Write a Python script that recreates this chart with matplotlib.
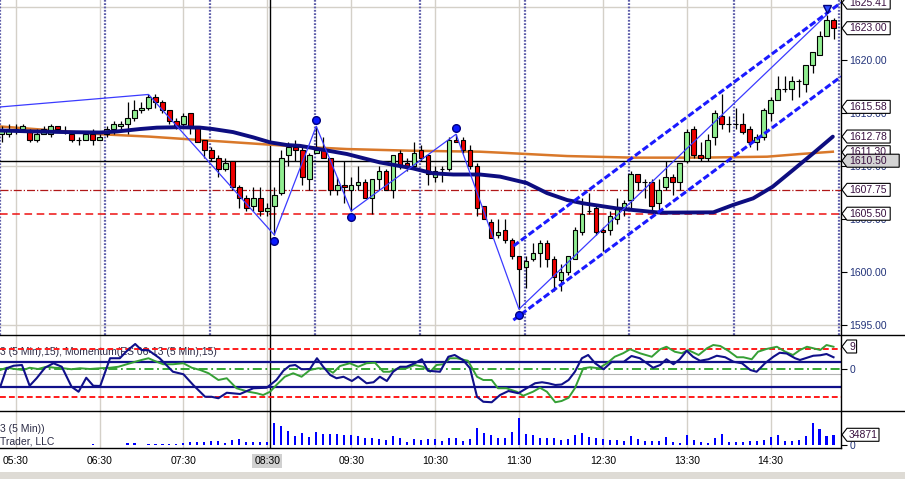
import numpy as np
import matplotlib
matplotlib.use('Agg')
import matplotlib.pyplot as plt
from matplotlib.patches import Polygon, Rectangle
from matplotlib.lines import Line2D
from matplotlib.transforms import IdentityTransform, offset_copy

plt.rcParams['font.family'] = ['Liberation Sans', 'DejaVu Sans']

# ---- 5 min bars (index 0 = 05:20) ----
opens = [1613.0, 1613.0, 1613.5, 1613.5, 1613.25, 1612.5, 1613.0, 1613.0, 1613.75, 1613.25,
         1613.0, 1612.5, 1612.5, 1613.0, 1612.5, 1613.0, 1613.5, 1613.75, 1614.0, 1614.5,
         1615.25, 1615.5, 1616.5, 1616.0, 1615.25, 1614.25, 1614.0, 1615.0, 1613.75, 1612.5,
         1611.5, 1610.75, 1609.75, 1610.5, 1608.0, 1607.0, 1606.25, 1607.0, 1605.75, 1606.25,
         1607.5, 1611.0, 1611.75, 1611.5, 1608.75, 1611.25, 1611.5, 1610.75, 1607.75, 1608.25,
         1607.75, 1608.25, 1608.5, 1607.0, 1608.75, 1609.5, 1607.75, 1611.25, 1610.25, 1610.0,
         1611.5, 1611.0, 1609.0, 1609.75, 1609.75, 1612.5, 1612.5, 1611.5, 1610.0, 1606.25,
         1604.75, 1603.5, 1604.0, 1603.0, 1601.5, 1600.5, 1601.25, 1601.75, 1602.75, 1601.25,
         1599.25, 1600.0, 1601.25, 1603.75, 1605.75, 1606.0, 1604.0, 1604.0, 1605.0, 1606.0,
         1606.75, 1609.25, 1608.5, 1608.5, 1606.5, 1608.0, 1609.0, 1608.5, 1610.5, 1613.5,
         1611.0, 1610.75, 1612.75, 1614.75, 1614.0, 1614.0, 1614.0, 1613.5, 1612.25, 1612.75,
         1615.0, 1616.25, 1617.25, 1617.25, 1618.0, 1617.75, 1619.5, 1620.5, 1622.25, 1623.75]
highs = [1613.75, 1614.0, 1614.0, 1614.0, 1613.5, 1613.5, 1613.75, 1614.0, 1613.75, 1613.75,
         1613.25, 1612.75, 1613.25, 1613.5, 1613.0, 1613.75, 1614.25, 1614.25, 1616.0, 1616.25,
         1616.0, 1616.75, 1616.75, 1616.25, 1615.25, 1614.5, 1615.0, 1615.0, 1613.75, 1612.5,
         1611.75, 1611.0, 1610.75, 1610.5, 1608.25, 1607.25, 1608.0, 1608.0, 1606.5, 1608.0,
         1611.5, 1612.25, 1612.5, 1611.75, 1611.25, 1613.75, 1612.75, 1610.75, 1609.0, 1610.5,
         1609.0, 1610.0, 1608.75, 1608.75, 1610.0, 1609.75, 1611.0, 1611.5, 1610.75, 1612.25,
         1612.0, 1611.0, 1610.0, 1610.0, 1612.75, 1613.0, 1612.75, 1612.0, 1610.25, 1606.25,
         1605.0, 1605.0, 1605.0, 1603.25, 1601.5, 1601.5, 1602.75, 1603.0, 1603.0, 1601.5,
         1600.75, 1601.5, 1604.25, 1607.0, 1607.5, 1606.25, 1604.25, 1605.75, 1607.0, 1606.75,
         1609.5, 1609.25, 1608.75, 1608.75, 1608.75, 1610.5, 1609.25, 1610.25, 1613.5, 1613.75,
         1612.25, 1613.0, 1615.25, 1616.75, 1614.75, 1615.5, 1615.0, 1613.75, 1613.0, 1615.5,
         1616.5, 1618.5, 1618.5, 1618.5, 1618.25, 1619.5, 1620.75, 1622.75, 1624.25, 1624.0]
lows = [1612.25, 1612.75, 1613.0, 1613.25, 1612.25, 1612.25, 1613.0, 1612.75, 1613.5, 1613.0,
        1612.25, 1612.0, 1612.5, 1612.0, 1612.5, 1612.75, 1613.0, 1613.5, 1613.0, 1614.25,
        1615.0, 1615.25, 1615.5, 1615.0, 1614.0, 1613.5, 1613.75, 1613.0, 1612.25, 1610.75,
        1610.5, 1609.0, 1609.5, 1607.75, 1606.0, 1605.75, 1605.75, 1605.25, 1605.25, 1603.5,
        1607.25, 1610.0, 1610.5, 1608.25, 1607.75, 1611.25, 1610.75, 1607.25, 1607.25, 1606.5,
        1605.75, 1607.75, 1607.0, 1605.5, 1607.75, 1607.75, 1607.0, 1609.75, 1609.5, 1609.75,
        1610.5, 1608.25, 1608.5, 1608.5, 1609.5, 1612.25, 1611.25, 1609.75, 1605.25, 1605.0,
        1603.25, 1603.25, 1602.75, 1601.25, 1596.5, 1598.5, 1601.0, 1600.5, 1600.5, 1598.25,
        1598.25, 1599.75, 1601.25, 1603.5, 1605.5, 1603.5, 1602.0, 1603.5, 1604.5, 1605.25,
        1606.0, 1607.75, 1607.0, 1605.75, 1605.75, 1607.75, 1607.25, 1607.75, 1610.25, 1610.75,
        1610.5, 1610.5, 1612.0, 1613.5, 1613.25, 1613.5, 1613.0, 1611.75, 1611.5, 1612.5,
        1614.25, 1616.25, 1617.0, 1616.25, 1616.5, 1617.0, 1618.75, 1620.5, 1622.25, 1622.0]
closes = [1613.5, 1613.5, 1613.5, 1613.75, 1612.5, 1613.0, 1613.5, 1613.75, 1613.5, 1613.25,
          1612.5, 1612.5, 1613.0, 1612.5, 1612.75, 1613.5, 1614.0, 1614.0, 1614.5, 1615.25,
          1615.5, 1616.5, 1616.0, 1615.25, 1614.25, 1613.75, 1614.75, 1613.75, 1612.25, 1611.5,
          1610.75, 1609.75, 1610.25, 1608.0, 1607.0, 1606.0, 1607.0, 1605.75, 1606.0, 1607.25,
          1610.75, 1611.75, 1611.5, 1609.0, 1611.0, 1611.5, 1610.75, 1607.75, 1608.25, 1608.0,
          1608.25, 1608.5, 1607.0, 1608.75, 1609.5, 1607.75, 1611.0, 1610.0, 1610.0, 1611.25,
          1610.75, 1609.25, 1609.5, 1609.75, 1612.5, 1612.25, 1611.5, 1610.0, 1606.0, 1605.0,
          1603.25, 1603.75, 1603.0, 1601.5, 1600.25, 1601.0, 1601.75, 1602.75, 1601.25, 1599.5,
          1600.0, 1601.5, 1604.0, 1605.5, 1605.75, 1603.75, 1603.75, 1605.25, 1606.0, 1606.5,
          1609.25, 1608.5, 1608.5, 1606.25, 1607.75, 1609.0, 1608.5, 1610.25, 1613.25, 1611.0,
          1610.75, 1612.5, 1615.0, 1614.0, 1614.0, 1614.0, 1613.25, 1612.25, 1612.75, 1615.25,
          1616.25, 1617.25, 1617.25, 1618.0, 1618.0, 1619.5, 1620.75, 1622.25, 1623.75, 1623.0]
volume = [0, 0, 0, 0, 0, 0, 0, 0, 0, 0,
          0, 0, 0, 3800, 0, 0, 0, 0, 9200, 9200,
          0, 4900, 4900, 4900, 4900, 4900, 7100, 10300, 10300, 12500,
          15700, 15700, 7100, 17900, 21200, 12500, 10300, 10300, 10300, 74400,
          63500, 47200, 31000, 41800, 28800, 45100, 36400, 36400, 36400, 34200,
          34200, 31000, 25500, 25500, 21200, 17900, 31000, 25500, 12500, 21200,
          17900, 21200, 21200, 15000, 24000, 23300, 14700, 21200, 55900, 41800,
          34200, 23300, 23300, 42900, 88500, 37500, 34200, 23300, 23300, 23300,
          17900, 21200, 34200, 39600, 26600, 23300, 21200, 17900, 17900, 14700,
          31000, 21200, 14700, 14700, 14700, 26600, 12500, 7100, 34200, 17900,
          12500, 7100, 23300, 37500, 12500, 10300, 12500, 14700, 14700, 17900,
          26600, 34200, 14700, 15700, 17900, 31000, 74400, 53800, 31000, 34871]

hour_idx = [2, 14, 26, 38, 50, 62, 74, 86, 98, 110]
hour_lbl = ['05:30', '06:30', '07:30', '08:30', '09:30', '10:30', '11:30', '12:30', '13:30', '14:30']

# moving averages (bar position, price)
navy_x = [-0.2, 4.5, 9.3, 14.1, 16.5, 19.8, 22.2, 25.1, 28.4, 30.2, 33.1, 36.0, 38.4, 40.8, 42.7,
          44.5, 49.4, 54.1, 58.8, 61.7, 64.6, 68.4, 71.3, 75.1, 78.0, 80.9, 83.2, 88.0, 94.2,
          101.8, 104.6, 107.5, 110.3, 113.2, 116.1, 118.9]
navy_v = [1613.35, 1613.26, 1613.2, 1613.16, 1613.26, 1613.49, 1613.62, 1613.66, 1613.62, 1613.49,
          1613.2, 1612.7, 1612.23, 1611.98, 1611.9, 1611.7, 1611.13, 1610.34, 1609.78, 1609.31,
          1609.2, 1609.2, 1609.0, 1608.4, 1607.45, 1606.79, 1606.48, 1606.0, 1605.6, 1605.63,
          1606.32, 1606.95, 1608.05, 1609.62, 1611.2, 1612.77]
orange_x = [-0.2, 9.3, 14.1, 21.2, 28.4, 35.5, 42.7, 49.4, 58.8, 68.4, 71.3, 80.9, 90.3, 99.9,
            109.5, 114.2, 118.9]
orange_v = [1613.73, 1613.26, 1613.0, 1612.77, 1612.45, 1612.14, 1611.82, 1611.6, 1611.44,
            1611.35, 1611.26, 1610.94, 1610.79, 1610.79, 1610.88, 1611.13, 1611.35]

# zigzag pivots and regression channel
piv_x = [-6, 21, 39, 45, 50, 65, 74, 118]
piv_y = [1615.25, 1616.75, 1603.5, 1613.75, 1605.75, 1613.0, 1596.5, 1624.25]
piv_lows = [39, 50, 74]
piv_highs = [45, 65]
chan_x = [73.2, 120.07]
chan_upper = [1602.45, 1625.41]
chan_lower = [1595.47, 1618.43]

levels_dashdot = 1607.75
levels_dashed = 1605.50
cross_price = 1610.50
cross_bar = 38.4

# oscillators
osc_x = [-0.2, 0.7, 1.7, 2.9, 4.0, 5.0, 6.2, 7.4, 8.6, 10.0, 11.0, 12.1, 13.1, 14.1, 15.5, 16.9,
         17.9, 19.1, 20.0, 21.0, 22.6, 24.5, 26.0, 27.4, 29.1, 30.0, 31.0, 32.2, 34.1, 36.0, 37.9,
         39.3, 40.3, 41.2, 42.0, 42.9, 44.1, 45.1, 46.0, 47.0, 47.9, 48.9, 50.1, 51.0, 52.2, 53.2,
         54.1, 55.1, 56.0, 57.0, 57.9, 59.1, 60.1, 61.0, 62.7, 63.9, 64.8, 66.0, 67.0, 68.0, 68.9,
         70.1, 71.3, 72.5, 73.9, 75.1, 76.3, 77.3, 78.2, 79.2, 80.1, 81.1, 82.0, 83.0, 83.9, 84.9,
         86.1, 87.3, 89.0, 90.1, 91.3, 93.2, 94.2, 95.1, 96.1, 97.0, 98.0, 98.9, 99.9, 101.1, 102.3,
         103.5, 104.7, 105.9, 107.1, 108.0, 109.2, 110.4, 111.3, 112.3, 113.5, 114.2, 115.2, 116.1,
         117.1, 118.0, 119.0]
osc_v = [-7.1, 0.3, 1.3, 1.6, -6.7, -3.7, 0.5, 2.3, 0.9, -7.1, -9.1, -3.5, -6.7, -6.8, 4.3, 4.3,
         7.2, 10.0, 7.6, 7.5, 4.3, -1.1, -2.1, -6.4, -11.1, -11.1, -11.7, -9.5, -10.0, -7.7, -7.5,
         -4.4, -0.7, 1.3, 1.6, -0.1, 0.0, 4.3, 0.9, -2.4, -3.7, -3.1, -4.8, -3.1, -5.7, -5.3,
         -3.1, -4.8, -1.1, 0.9, 0.9, 2.3, 3.9, -0.7, -1.1, 4.9, 5.6, 3.6, 0.3, -11.1, -13.1,
         -13.3, -10.4, -8.8, -9.7, -7.7, -5.7, -5.3, -5.7, -6.4, -6.2, -4.4, -1.1, 4.3, 5.6, 2.3,
         -0.1, 2.9, 2.9, 5.2, 4.3, 0.5, 1.6, 3.9, 1.9, 3.9, 7.3, 4.9, 3.3, 3.9, 5.3,
         4.7, 2.9, 2.3, -0.4, -1.1, 2.3, 4.9, 6.5, 6.2, 4.3, 3.6, 4.5, 5.3,
         5.5, 6.0, 4.7]
mom_x = [-0.2, 0.7, 1.9, 3.1, 4.0, 5.2, 6.4, 7.6, 8.8, 10.0, 11.2, 12.6, 14.1, 15.5, 16.7, 17.9,
         19.1, 20.0, 21.0, 21.9, 23.1, 24.5, 26.0, 27.2, 28.4, 29.6, 31.0, 32.2, 33.6, 35.3, 36.5,
         37.4, 38.4, 39.3, 40.5, 41.7, 42.9, 44.1, 45.3, 46.5, 47.4, 48.4, 49.8, 51.0, 52.2, 53.4,
         54.6, 55.5, 56.7, 57.9, 59.1, 60.3, 61.3, 62.2, 63.2, 64.1, 65.1, 66.7, 68.0, 68.9, 70.1,
         71.0, 72.2, 73.7, 74.6, 76.0, 77.0, 78.0, 79.2, 80.1, 81.1, 82.0, 83.2, 84.2, 85.4, 86.6,
         87.7, 88.9, 89.9, 91.3, 93.0, 94.2, 95.1, 96.3, 97.3, 98.2, 99.7, 100.9, 101.8, 102.8,
         104.0, 105.2, 106.1, 107.3, 108.2, 109.4, 110.9, 112.1, 113.2, 114.2, 115.2, 116.1, 117.1,
         118.0, 119.0]
mom_v = [-0.4, 0.5, 0.0, -0.4, 0.5, 0.0, 0.9, 0.5, 0.3, -0.1, 0.3, 0.0, 0.3, 0.5, 0.9, 1.9,
         2.9, 3.6, 4.3, 3.2, 1.9, 1.9, 2.3, 0.5, -0.4, -1.7, -4.4, -3.7, -7.7, -9.1, -9.7,
         -10.4, -9.1, -6.4, -3.1, -1.7, -3.1, -0.4, 0.3, 0.0, -1.5, 1.2, 2.3, 0.9, 2.3, 2.5,
         -1.1, -1.1, 0.3, 0.3, 1.6, 0.9, -1.1, 1.6, 1.9, 4.3, 4.3, 3.3, -3.1, -4.4, -4.4,
         -7.7, -7.7, -9.1, -10.7, -9.1, -7.5, -9.1, -13.3, -12.8, -11.5, -7.7, 0.3, 0.7, 0.3, 2.3,
         4.9, 6.3, 7.9, 6.3, 4.9, 7.9, 8.9, 6.9, 6.3, 7.6, 5.6, 8.3, 9.6, 9.2,
         7.2, 4.7, 4.7, 3.9, 6.9, 8.0, 8.9, 6.9, 5.6, 7.6, 8.9, 8.3, 7.6,
         9.6, 8.9]
ind_red_levels = [7.9, -11.3]
ind_blue_levels = [2.9, -7.1]
ind_gray_level = -2.0

main_tags = [1625.41, 1623.00, 1615.58, 1612.78, 1611.30, 1610.50, 1607.75, 1605.50]
ind_tag = 9
vol_tag = 34871

# ---- layout ----
W, H = 905, 479
fig = plt.figure(figsize=(W / 100, H / 100), dpi=100)
fig.patch.set_facecolor('white')


def px_axes(x0, y0, x1, y1):
    return fig.add_axes([x0 / W, 1 - y1 / H, (x1 - x0) / W, (y1 - y0) / H])


ax = px_axes(0, 0, 841, 335)
ax_ind = px_axes(0, 335, 841, 411)
ax_vol = px_axes(0, 411, 841, 448)

grid_c = '#d4d0c8'
tick_c = '#22337a'
for a in (ax, ax_ind, ax_vol):
    a.set_xlim(-0.24, 120.07)
    a.set_facecolor('none')
    for s in a.spines.values():
        s.set_visible(False)
    a.yaxis.tick_right()
    a.tick_params(axis='y', length=4, width=0.8, color='black', labelsize=7.5,
                  labelcolor=tick_c, pad=2)
    for t in hour_idx:
        a.axvline(t, color=grid_c, lw=1, zorder=0)
    a.axvline(cross_bar, color='black', lw=1, zorder=2)

# ---- main price panel ----
ax.set_ylim(1594.06, 1625.66)
ax.set_xticks([])
ax.set_yticks([1595, 1600, 1605, 1610, 1615, 1620])
ax.yaxis.set_major_formatter('{x:.2f}')
for p in (1595, 1610, 1625):
    ax.axhline(p, color=grid_c, lw=1, zorder=0)
for k in range(9):
    ax.axvline(15 * k - 0.2, color='#5e5eaa', lw=1.6, ls=(0, (0.8, 0.7)), zorder=1)

ax.axhline(cross_price, color='black', lw=1, zorder=1)
ax.axhline(levels_dashdot, color='#b01818', lw=0.9, ls='-.', zorder=1)
ax.axhline(levels_dashed, color='#ee1111', lw=1.1, ls=(0, (5, 3)), zorder=1)

ax.plot(orange_x, orange_v, color='#d9782a', lw=1.8, zorder=2)

x = np.arange(len(closes))
o = np.array(opens)
c = np.array(closes)
up = c >= o
ax.vlines(x, lows, highs, color='black', lw=0.9, zorder=3)
ax.bar(x, np.abs(c - o), bottom=np.minimum(o, c), width=0.66,
       color=np.where(up, '#90ee90', '#ee0000'), edgecolor='black', linewidth=0.8, zorder=4)

ax.plot(navy_x, navy_v, color='#0d0d80', lw=2.8, zorder=5, solid_capstyle='round')

ax.plot(piv_x, piv_y, color='#3b3bff', lw=0.9, zorder=6)
dash = (0, (2.2, 0.9))
ax.plot(chan_x, chan_upper, color='#1a1aff', lw=2.2, ls=dash, zorder=6)
ax.plot(chan_x, chan_lower, color='#1a1aff', lw=2.2, ls=dash, zorder=6)

below = offset_copy(ax.transData, fig=fig, y=-6, units='dots')
above = offset_copy(ax.transData, fig=fig, y=6, units='dots')
lo_y = [piv_y[piv_x.index(i)] for i in piv_lows]
hi_y = [piv_y[piv_x.index(i)] for i in piv_highs]
ax.plot(piv_lows, lo_y, 'o', color='#0a1aff', mec='#000080', ms=5.5, transform=below, zorder=7)
ax.plot(piv_highs, hi_y, 'o', color='#0a1aff', mec='#000080', ms=5.5, transform=above, zorder=7)
ax.plot([piv_x[-1]], [piv_y[-1]], 'v', color='#3050ff', mec='#000080', ms=6,
        transform=above, zorder=7)

# ---- oscillator panel ----
ax_ind.set_ylim(-16.8, 13.6)
ax_ind.set_xticks([])
ax_ind.set_yticks([0])
ax_ind.set_yticklabels(['0'])
ax_ind.axhline(ind_gray_level, color='#b4b4b4', lw=0.8, zorder=1)
for lv in ind_red_levels:
    ax_ind.axhline(lv, color='#ff1a1a', lw=1.4, ls=(0, (3, 1.6)), zorder=2)
for lv in ind_blue_levels:
    ax_ind.axhline(lv, color='#10108a', lw=1.6, zorder=2)
ax_ind.axhline(0, color='#23a023', lw=1.3, ls=(0, (5, 2, 1, 2)), zorder=2)
ax_ind.plot(mom_x, mom_v, color='#35a035', lw=1.4, zorder=3)
ax_ind.plot(osc_x, osc_v, color='#10108a', lw=1.5, zorder=4)
ax_ind.text(0, 0.77, '3 (5 Min),15), Momentum(ES 06-13 (5 Min),15)', transform=ax_ind.transAxes,
            fontsize=7.5, color='#2b2b45', va='center', ha='left', zorder=1)

# ---- volume panel ----
ax_vol.set_ylim(-8150, 112400)
ax_vol.set_yticks([0])
ax_vol.set_yticklabels(['0'])
ax_vol.bar(x, volume, width=0.3, color='#0000ff', linewidth=0, zorder=3)
ax_vol.set_xticks(hour_idx)
ax_vol.set_xticklabels(hour_lbl)
ax_vol.tick_params(axis='x', length=0, pad=6, labelsize=7.5, labelcolor='black')
for lab in ax_vol.get_xticklabels():
    if lab.get_text() == '08:30':
        lab.set_bbox(dict(facecolor='#d0d0d0', edgecolor='none', pad=1.5))
ax_vol.text(0, 0.52, '3 (5 Min))', transform=ax_vol.transAxes, fontsize=7.5,
            color='#2b2b45', va='center')
ax_vol.text(0, 0.17, 'Trader, LLC', transform=ax_vol.transAxes, fontsize=7.5,
            color='#2b2b45', va='center')

# ---- frame lines ----
ident = IdentityTransform()
for yy, x1 in ((335, W), (411, W), (448, 841)):
    fig.add_artist(Line2D([0, x1], [H - yy, H - yy], transform=ident, color='black', lw=1))
fig.add_artist(Line2D([841, 841], [H - 448, H], transform=ident, color='black', lw=1))
fig.add_artist(Rectangle((0, 0), W, 7, transform=ident, facecolor='#dedbd5', edgecolor='none'))


# ---- value tags on the right ----
def tag(axis, value, label, face='white', extra=0):
    xd = axis.bbox.x1
    yd = axis.transData.transform((0, value))[1]
    w = 4 + 5.6 * len(label) + extra
    pts = [(xd + 1, yd), (xd + 6, yd + 6.5), (xd + 6 + w, yd + 6.5),
           (xd + 6 + w, yd - 6.5), (xd + 6, yd - 6.5)]
    fig.add_artist(Polygon(pts, closed=True, transform=ident, facecolor=face,
                           edgecolor='black', lw=0.8))
    fig.add_artist(plt.Text(xd + 8, yd, label, transform=ident, fontsize=7.5,
                            color='#3a1040', va='center', ha='left'))


for v in main_tags:
    if v == cross_price:
        tag(ax, v, f'{v:.2f}', face='#d4d4d4', extra=9)
    else:
        tag(ax, v, f'{v:.2f}')
tag(ax_ind, ind_tag, str(ind_tag))
tag(ax_vol, vol_tag, str(vol_tag))

fig.savefig('out.png', dpi=100, facecolor='white')
